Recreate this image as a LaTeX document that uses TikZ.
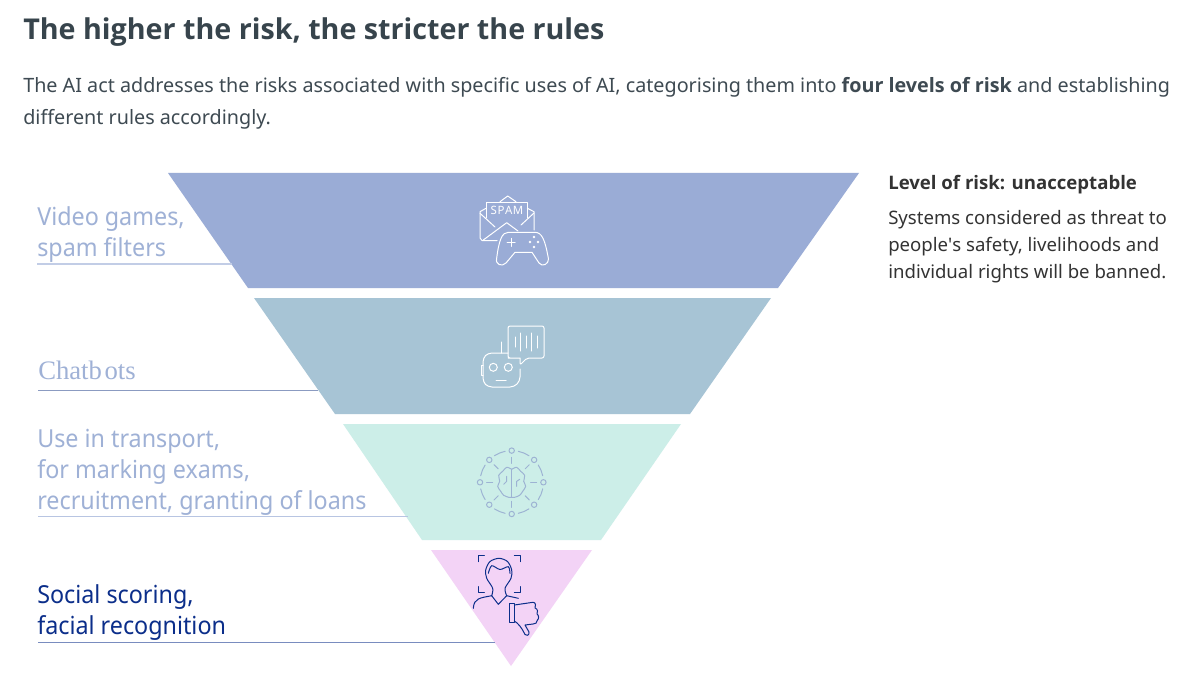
\documentclass[tikz,border=0pt]{standalone}
\usepackage{fontspec}
\setmainfont{Noto Sans}[BoldFont={Open Sans Bold}]
\newfontfamily\serifchat{Liberation Serif}
\newfontfamily\labelfont{Noto Sans}[FakeStretch=0.94]
\newfontfamily\quotefont{Noto Sans}
\definecolor{headgrey}{HTML}{37444C}
\definecolor{bodygrey}{HTML}{3E4A52}
\definecolor{levelone}{HTML}{9AACD6}
\definecolor{leveltwo}{HTML}{A7C4D5}
\definecolor{levelthree}{HTML}{CCEEE8}
\definecolor{levelfour}{HTML}{F3D3F6}
\definecolor{palelabel}{HTML}{9FB1D6}
\definecolor{darklabel}{HTML}{0B2E8A}
\definecolor{braininked}{HTML}{9DB3D3}
\tikzset{
  headtext/.style={anchor=base west,inner sep=0pt,font=\fontsize{21.5}{26}\selectfont\bfseries,text=headgrey},
  bodytext/.style={anchor=base west,inner sep=0pt,font=\fontsize{14.82}{24}\selectfont,text=bodygrey},
  sidetext/.style={anchor=base west,inner sep=0pt,font=\fontsize{13.95}{20}\selectfont,text=black!80},
  risklabel/.style={anchor=base west,inner sep=0pt,font=\labelfont\fontsize{18.6}{24}\selectfont,text=palelabel},
  leader/.style={line width=0.9pt},
  iconline/.style={line width=0.75pt,line join=round,line cap=round}
}
\begin{document}
\begin{tikzpicture}[x=0.75pt,y=-0.75pt]
\useasboundingbox (0,0) rectangle (1202,681);
\fill [white] (0,0) rectangle (1202,681);
% heading
\node [headtext] (title) at (23,40) {The higher the risk, the stricter the rules};
\node [bodytext] (introa) at (23,93) {The AI act addresses the risks associated with specific uses of AI, categorising them into \textbf{four levels of risk} and establishing};
\node [bodytext] (introb) at (23,125) {different rules accordingly.};
% funnel
\fill [levelone] (168,173) -- (859,173) -- (778,288) -- (248,288) -- cycle;
\fill [leveltwo] (254,298) -- (771,298) -- (690,414) -- (335,414) -- cycle;
\fill [levelthree] (343,424) -- (681,424) -- (601,540) -- (422,540) -- cycle;
\fill [levelfour] (431,550) -- (592,550) -- (511,666) -- cycle;
% labels on the left
\node [risklabel] (videoa) at (37,225) {Video games,};
\node [risklabel] (videob) at (37,256) {spam filters};
\node [risklabel,font=\serifchat\fontsize{20}{24}\selectfont] (chat) at (38,379) {Chatb\kern2pt ots};
\node [risklabel] (usea) at (37,447) {Use in transport,};
\node [risklabel] (useb) at (37,478) {for marking exams,};
\node [risklabel] (usec) at (37,509) {recruitment, granting of loans};
\node [risklabel,text=darklabel] (sociala) at (37,603.5) {Social scoring,};
\node [risklabel,text=darklabel] (socialb) at (37,634.5) {facial recognition};
\coordinate (videol) at (37,264);
\coordinate (videor) at (232,264);
\coordinate (chatl) at (38,390.5);
\coordinate (chatr) at (318,390.5);
\coordinate (usel) at (38,516.5);
\coordinate (user) at (408,516.5);
\coordinate (sociall) at (38,642.5);
\coordinate (socialr) at (495,642.5);
\draw [leader,color=levelone!60] (videol) -- (videor);
\draw [leader,color=levelone!90!black] (chatl) -- (chatr);
\draw [leader,color=levelone!70] (usel) -- (user);
\draw [leader,line width=1.2pt,color=darklabel!55] (sociall) -- (socialr);
% text on the right
\node [sidetext,font=\fontsize{13.95}{20}\selectfont\bfseries] (levela) at (888,190) {Level of risk: unacceptable};
\node [sidetext] (levelb) at (888,224) {Systems considered as threat to};
\node [sidetext] (levelc) at (888,251) {people{\quotefont'}s safety, livelihoods and};
\node [sidetext] (leveld) at (888,278) {individual rights will be banned.};
% envelope and controller
\begin{scope}[iconline,white]
\draw (486,208.3) -- (480,211.7) -- (480,238) -- (482,240.5) -- (497,240.5);
\draw (527.3,208.3) -- (534,211.7) -- (534,230);
\draw (500,201.7) -- (507.7,196) -- (516,201.7);
\draw (486,218) -- (486,202.7) -- (527.3,202.7) -- (527.3,218);
\draw (480,213.3) -- (495,227);
\draw (534,213) -- (521,225);
\draw (483.3,240) -- (506.7,222.7) -- (518,231);
\node [inner sep=0pt,font=\fontsize{8.6}{9}\selectfont,text=white] (spam) at (507,210.5) {S\kern0.4pt P\kern0.4pt A\kern0.4pt M};
\draw (508.3,232.3) -- (535,232.3) .. controls (542,232.3) and (545,240) .. (548.3,258) .. controls (549,265) and (542,267) .. (539,263) -- (532,252.3) -- (515,252.3) -- (506,263) .. controls (502,267) and (495,265) .. (496.7,258) .. controls (499,240) and (502,232.3) .. (508.3,232.3) -- cycle;
\draw (507,242.3) -- (515,242.3);
\draw (511,238.3) -- (511,246.3);
\fill (534,237) circle (1.3);
\fill (530,242) circle (1.3);
\fill (538,242) circle (1.3);
\fill (534,247) circle (1.3);
% robot with speech bubble
\draw [rounded corners=1.5] (520,358) -- (510,358) -- (508,358) -- (508,326) -- (544,326) -- (544,358) -- (527,358) -- (520,365) -- (520,358);
\draw (515,337) -- (515,347);
\draw (520.7,333) -- (520.7,351);
\draw (526,336) -- (526,348);
\draw (531.7,333) -- (531.7,351);
\draw (537.3,336) -- (537.3,348);
\draw (501.7,342) -- (501.7,353);
\draw [rounded corners=3] (508,353) -- (488,353) -- (483,358) -- (483,382) -- (488,387) -- (514,387) -- (520,381) -- (520,369);
\draw (483,365) -- (481,365) -- (481,375) -- (483,375);
\draw (493.3,367.3) circle (4);
\draw (508.3,367.3) circle (4);
\draw (496,380) -- (506,380);
\end{scope}
% brain in a ring
\begin{scope}[iconline,color=braininked,shift={(511.7,482.3)}]
\draw (0:31.7) circle (2.7);
\draw (45:31.7) circle (2.7);
\draw (90:31.7) circle (2.7);
\draw (135:31.7) circle (2.7);
\draw (180:31.7) circle (2.7);
\draw (225:31.7) circle (2.7);
\draw (270:31.7) circle (2.7);
\draw (315:31.7) circle (2.7);
\draw (12:31.7) arc (12:33:31.7);
\draw (57:31.7) arc (57:78:31.7);
\draw (102:31.7) arc (102:123:31.7);
\draw (147:31.7) arc (147:168:31.7);
\draw (192:31.7) arc (192:213:31.7);
\draw (237:31.7) arc (237:258:31.7);
\draw (282:31.7) arc (282:303:31.7);
\draw (327:31.7) arc (327:348:31.7);
\draw (0:19) -- (0:25);
\draw (45:19) -- (45:25);
\draw (90:19) -- (90:25);
\draw (135:19) -- (135:25);
\draw (180:19) -- (180:25);
\draw (225:19) -- (225:25);
\draw (270:19) -- (270:25);
\draw (315:19) -- (315:25);
\draw (0,-13) -- (0,15);
\draw plot [smooth] coordinates {(0,-13) (-5,-15) (-9,-11) (-13,-7) (-12,-1) (-14,4) (-11,9) (-8,13) (-3,15) (0,15)};
\draw plot [smooth] coordinates {(0,-13) (5,-15) (9,-11) (13,-7) (12,-1) (14,4) (11,9) (8,13) (3,15) (0,15)};
\draw (-5,-6) -- (-5,-1) -- (-8,2);
\draw (5,4) -- (5,-1) -- (8,-3);
\end{scope}
% face with thumb down
\begin{scope}[iconline,color=darklabel]
\draw (478.3,561.7) -- (478.3,555.7) -- (484.3,555.7);
\draw (514.3,555.7) -- (520.3,555.7) -- (520.3,561.7);
\draw (478.3,586.7) -- (478.3,592.3) -- (484.3,592.3);
\draw (514.3,592.3) -- (520.3,592.3) -- (520.3,586.7);
\draw plot [smooth] coordinates {(491.7,595.7) (492.7,588.3) (486.7,578.3) (485.7,570) (490,561.5) (499,558.3) (507.5,561.5) (511.7,570) (511,578.3) (505,588.3) (506.7,595.7)};
\draw plot [smooth] coordinates {(488.3,573.3) (491.7,565.7) (500,569.5) (508.3,566.7) (510,573.3)};
\draw (491.7,595.7) -- (498.3,604.3) -- (506.7,595.7);
\draw (491.7,595.7) .. controls (480,598) and (474,598) .. (473.3,608.3);
\draw (506.7,595.7) -- (518.3,598.3);
\draw (509,603.3) rectangle (514.3,622.3);
\draw (514.3,605) -- (533,602.3) .. controls (536,602.3) and (536,606) .. (535,608) .. controls (538,609) and (538,612) .. (537,614) .. controls (539,615) and (539,619) .. (537.5,620) .. controls (537.5,623) and (535,624) .. (533,624) -- (525,625) -- (529,632) .. controls (529.5,636) and (526,636) .. (525,634.5) .. controls (522,628) and (518,623) .. (514.3,621);
\end{scope}
\end{tikzpicture}
\end{document}
